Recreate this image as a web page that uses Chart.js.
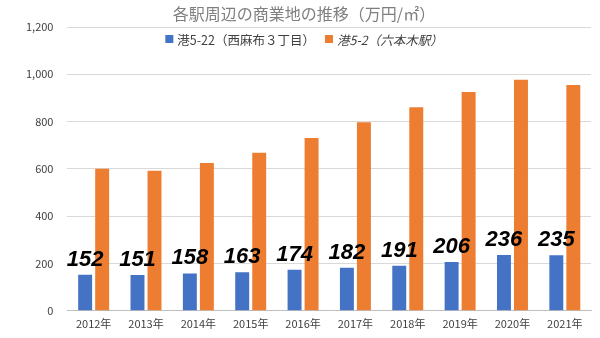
<!DOCTYPE html>
<html>
<head>
<meta charset="utf-8">
<script src="https://cdn.jsdelivr.net/npm/chart.js@4"></script>
<style>
  html, body { margin: 0; padding: 0; background: #fff; }
  #wrap { width: 600px; height: 338px; }
</style>
</head>
<body>
<div id="wrap"><canvas id="chart"></canvas></div>
<script>
const years = ["2012年","2013年","2014年","2015年","2016年","2017年","2018年","2019年","2020年","2021年"]
const nishiazabu = [152,151,158,163,174,182,191,206,236,235]
const roppongi = [601,592,625,668,731,797,861,925,977,955]
const titleText = "各駅周辺の商業地の推移（万円/㎡）"
const seriesNames = ["港5-22（西麻布３丁目）","港5-2（六本木駅）"]
const colors = ["#4472C4","#ED7D31"]

const jpFont = '"Noto Sans CJK JP", "Noto Sans", sans-serif'

// title + legend drawn on top of the plot, like the original
const headerPlugin = {
  id: "header",
  afterDraw(chart) {
    const ctx = chart.ctx
    ctx.save()
    ctx.fillStyle = "#7f7f7f"
    ctx.font = "16px " + jpFont
    ctx.textAlign = "center"
    ctx.textBaseline = "middle"
    ctx.fillText(titleText, 304, 14)

    ctx.textAlign = "left"
    const styles = ["", "italic "]
    let widths = seriesNames.map((n, i) => {
      ctx.font = styles[i] + "12.5px " + jpFont
      return ctx.measureText(n).width
    })
    const box = 8, gap = 4, between = 10
    let total = widths[0] + widths[1] + 2 * (box + gap) + between
    let x = 304 - total / 2
    const y = 39
    for (let i = 0; i < 2; i++) {
      ctx.fillStyle = colors[i]
      ctx.fillRect(x, y - box / 2, box, box)
      x += box + gap
      ctx.fillStyle = "#404040"
      ctx.font = styles[i] + "12.5px " + jpFont
      ctx.fillText(seriesNames[i], x, y + 1)
      x += widths[i] + between
    }
    ctx.restore()
  }
}

// big value labels over the blue bars
const valuePlugin = {
  id: "values",
  afterDatasetsDraw(chart) {
    const ctx = chart.ctx
    const meta = chart.getDatasetMeta(0)
    ctx.save()
    ctx.fillStyle = "#000"
    ctx.font = 'italic bold 22px "Liberation Sans", sans-serif'
    ctx.textAlign = "center"
    ctx.textBaseline = "alphabetic"
    meta.data.forEach((bar, i) => {
      ctx.fillText(String(nishiazabu[i]), bar.x, bar.y - 9)
    })
    ctx.restore()
  }
}

const config = {
  type: "bar",
  data: {
    labels: years,
    datasets: [{
      label: seriesNames[0],
      data: nishiazabu,
      backgroundColor: colors[0],
      barPercentage: 0.82,
      categoryPercentage: 0.65
    }, {
      label: seriesNames[1],
      data: roppongi,
      backgroundColor: colors[1],
      barPercentage: 0.82,
      categoryPercentage: 0.65
    }]
  },
  options: {
    responsive: true,
    maintainAspectRatio: false,
    animation: false,
    layout: { padding: { top: 27, left: 12, right: 9, bottom: 2 } },
    plugins: {
      legend: { display: false },
      title: { display: false },
      tooltip: { enabled: false }
    },
    scales: {
      x: {
        grid: { display: false, drawTicks: false },
        border: { color: "#bfbfbf" },
        ticks: { color: "#404040", font: { size: 11, family: jpFont }, padding: 6 }
      },
      y: {
        min: 0,
        max: 1200,
        grid: { color: "#d9d9d9", drawTicks: false },
        border: { display: false },
        ticks: {
          stepSize: 200,
          color: "#404040",
          padding: 14,
          font: { size: 11, family: jpFont },
          callback: v => v.toLocaleString("en-US")
        }
      }
    }
  },
  plugins: [headerPlugin, valuePlugin]
}

new Chart(document.getElementById("chart"), config)
</script>
</body>
</html>
